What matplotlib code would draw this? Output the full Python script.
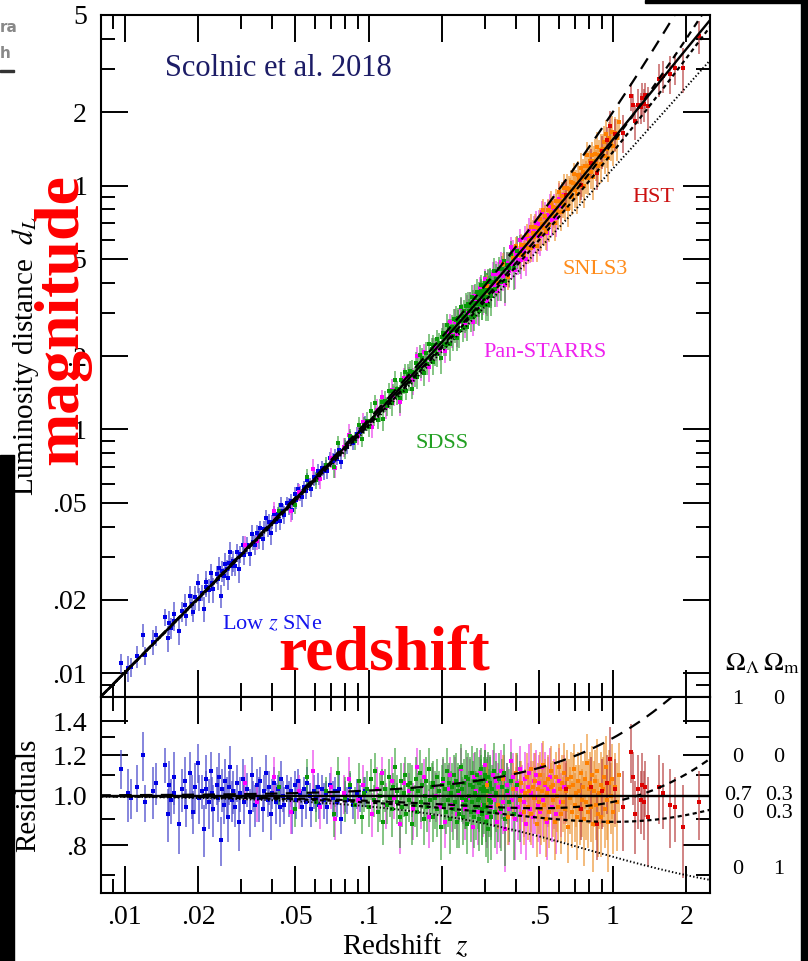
import numpy as np
import matplotlib
matplotlib.use("Agg")
import matplotlib.pyplot as plt
from matplotlib.ticker import FixedLocator, FixedFormatter, LogLocator, NullFormatter
from matplotlib.patches import Rectangle

plt.rcParams['font.family'] = ['Liberation Serif', 'DejaVu Serif']
plt.rcParams['mathtext.fontset'] = 'stix'
plt.rcParams['lines.scale_dashes'] = False

# ---------------- data ----------------
# residuals are given as percent deviation from the LCDM distance, errors in percent
z_lowz = [0.0097, 0.0103, 0.0106, 0.0112, 0.0119, 0.0121, 0.0131, 0.0134, 0.0146, 0.0150,
          0.0152, 0.0155, 0.0159, 0.0160, 0.0167, 0.0172, 0.0176, 0.0178, 0.0185, 0.0189,
          0.0190, 0.0194, 0.0199, 0.0201, 0.0207, 0.0211, 0.0215, 0.0216, 0.0222, 0.0226,
          0.0229, 0.0231, 0.0238, 0.0242, 0.0244, 0.0249, 0.0251, 0.0255, 0.0258, 0.0263,
          0.0266, 0.0268, 0.0271, 0.0275, 0.0277, 0.0283, 0.0289, 0.0293, 0.0298, 0.0304,
          0.0309, 0.0318, 0.0325, 0.0331, 0.0337, 0.0342, 0.0349, 0.0355, 0.0360, 0.0368,
          0.0372, 0.0379, 0.0386, 0.0389, 0.0397, 0.0402, 0.0411, 0.0417, 0.0425, 0.0431,
          0.0438, 0.0447, 0.0451, 0.0463, 0.0472, 0.0480, 0.0486, 0.0498, 0.0503, 0.0512,
          0.0521, 0.0533, 0.0541, 0.0552, 0.0560, 0.0574, 0.0582, 0.0597, 0.0606, 0.0619,
          0.0628, 0.0641, 0.0655, 0.0669, 0.0677, 0.0694, 0.0712, 0.0725, 0.0741, 0.0758,
          0.0772, 0.0796, 0.0815, 0.0838, 0.0862, 0.0891, 0.0924, 0.0967]
dev_lowz = [13, 1, -1, 4, 20, -3, 2, 6, 15, -8,
            5, -2, 9, 1, -12, 3, 7, -5, 11, 0,
            -7, 4, 16, -1, 2, -14, 8, 3, -3, 12,
            1, -6, 5, -1, 9, -18, 3, -4, 7, 0,
            -9, 4, 14, -2, 2, -5, 6, -11, 1, 8,
            -3, 3, -7, 10, 0, -4, 5, -1, 7, -6,
            2, 11, -2, 4, -8, 1, 6, -3, 3, -5,
            8, 0, -4, 4, -1, 2, -7, 5, -2, 7,
            1, -5, 3, -3, 6, 0, -6, 2, -1, 4,
            -4, 3, -2, 1, -5, 5, -1, 2, -3, 3,
            -10, 0, -2, 4, -4, 1, -1, 2]
err_lowz = [10, 12, 9, 11, 13, 8, 12, 10, 9, 11,
            12, 10, 13, 9, 11, 10, 12, 8, 11, 10,
            9, 12, 10, 11, 8, 10, 12, 9, 11, 10,
            8, 11, 9, 10, 12, 9, 10, 8, 11, 9,
            10, 8, 11, 9, 10, 8, 9, 11, 8, 10,
            9, 8, 10, 9, 7, 9, 8, 10, 7, 9,
            8, 9, 7, 8, 10, 7, 8, 9, 7, 8,
            9, 7, 8, 6, 8, 7, 9, 7, 8, 6,
            7, 8, 6, 7, 8, 6, 7, 8, 6, 7,
            6, 7, 8, 6, 7, 6, 8, 7, 6, 7,
            6, 7, 6, 7, 6, 7, 6, 7]

z_sdss = [0.043, 0.050, 0.056, 0.061, 0.067, 0.072, 0.075, 0.080, 0.084, 0.088, 0.091, 0.094, 0.096, 0.098,
          0.100, 0.102, 0.105, 0.106, 0.109, 0.111, 0.113, 0.114, 0.117, 0.119,
          0.121, 0.122, 0.125, 0.126, 0.128, 0.130, 0.131, 0.134, 0.135, 0.137,
          0.139, 0.141, 0.142, 0.145, 0.146, 0.148, 0.150, 0.151, 0.154, 0.156,
          0.158, 0.159, 0.162, 0.163, 0.166, 0.168, 0.170, 0.171, 0.174, 0.176,
          0.178, 0.181, 0.183, 0.184, 0.187, 0.190, 0.191, 0.194, 0.197, 0.199,
          0.201, 0.203, 0.206, 0.207, 0.209, 0.212, 0.213, 0.215, 0.218, 0.219,
          0.221, 0.223, 0.226, 0.227, 0.229, 0.232, 0.233, 0.235, 0.238, 0.240,
          0.241, 0.244, 0.245, 0.247, 0.250, 0.251, 0.253, 0.256, 0.258, 0.259,
          0.262, 0.264, 0.265, 0.268, 0.270, 0.272, 0.273, 0.276, 0.278, 0.280,
          0.282, 0.284, 0.287, 0.289, 0.291, 0.294, 0.296, 0.299, 0.302, 0.305,
          0.283, 0.288, 0.292, 0.297, 0.300, 0.303, 0.306, 0.309, 0.313, 0.316,
          0.308, 0.311, 0.314, 0.318, 0.321, 0.325, 0.329, 0.333, 0.338, 0.342,
          0.347, 0.352, 0.357, 0.363, 0.369, 0.376, 0.384, 0.393, 0.404, 0.418]
dev_sdss = [4, -6, 9, -3, 2, -8, 11, -1, 5, -4, 7, -9, 1, 3,
            -5, 8, -2, 12, -7, 0, 6, -11, 3, -4,
            9, -1, -6, 4, 14, -3, 2, -9, 7, -5,
            1, 10, -8, 5, -2, 6, -12, 3, -4, 8,
            -7, 2, 11, -3, 5, -10, 0, 7, -5, 13,
            -2, 4, -9, 6, -1, 9, -6, 2, -13, 5,
            8, -4, 3, -7, 12, -2, 6, -10, 1, 4,
            -6, 10, -3, 7, -11, 2, 5, -8, 14, -1,
            3, -9, 6, -4, 9, -2, -12, 8, 0, 5,
            -7, 11, -3, 4, -9, 7, 1, -5, 10, -2,
            6, -10, 3, 13, -6, 2, -4, 8, -11, 5,
            -1, 7, -8, 4, 10, -5, 2, -14, 6, -3,
            9, -2, 5, -9, 3, 12, -7, 1, -4, 8,
            -6, 4, 11, -10, 2, -3, 7, -8, 5, -1]
err_sdss = [8, 7, 9, 8, 7, 9, 8, 10, 7, 8, 9, 7, 8, 9,
            8, 10, 7, 9, 8, 11, 7, 9, 10, 8,
            9, 8, 11, 7, 10, 9, 8, 12, 9, 8,
            10, 9, 8, 11, 9, 10, 8, 12, 9, 11,
            10, 9, 12, 8, 11, 10, 9, 12, 10, 11,
            9, 12, 10, 11, 13, 9, 11, 10, 12, 10,
            11, 10, 13, 9, 12, 11, 10, 13, 11, 12,
            12, 10, 11, 14, 10, 12, 11, 13, 12, 10,
            13, 11, 12, 10, 14, 12, 11, 13, 12, 14,
            12, 14, 11, 13, 12, 15, 11, 13, 14, 12,
            13, 12, 15, 11, 14, 13, 12, 15, 13, 14,
            14, 13, 12, 15, 13, 14, 16, 12, 14, 15,
            13, 15, 14, 16, 12, 15, 14, 16, 15, 13,
            16, 14, 15, 17, 14, 16, 15, 17, 16, 18]

z_ps1 = [0.031, 0.035, 0.041, 0.048, 0.052, 0.059, 0.063, 0.070, 0.073, 0.079, 0.083, 0.090, 0.095,
         0.103, 0.108, 0.113, 0.118, 0.124, 0.127, 0.134, 0.139, 0.146, 0.152, 0.157, 0.164, 0.169,
         0.176, 0.183, 0.189, 0.195,
         0.202, 0.206, 0.211, 0.216, 0.219, 0.225, 0.229, 0.234, 0.238, 0.243,
         0.247, 0.253, 0.256, 0.261, 0.267, 0.271, 0.276, 0.280, 0.286, 0.290,
         0.295, 0.299, 0.305, 0.309, 0.313, 0.318, 0.323, 0.327, 0.331, 0.336,
         0.340, 0.345, 0.349, 0.354, 0.358, 0.363, 0.368, 0.372, 0.377, 0.381,
         0.386, 0.390, 0.396, 0.401, 0.405, 0.410, 0.416, 0.420, 0.425, 0.431,
         0.436, 0.441, 0.447, 0.452, 0.457, 0.463, 0.469, 0.474, 0.480, 0.486,
         0.492, 0.498, 0.505, 0.512, 0.519, 0.527, 0.535, 0.544, 0.553, 0.563,
         0.574, 0.586, 0.599, 0.614, 0.632]
dev_ps1 = [6, -3, 9, -7, 2, 12, -5, 4, -10, 1, 8, -2, 5,
           -8, 3, 11, -4, 7, -1, -12, 6, 2, -6, 14, -3, 9, -9, 4, 0, -5,
           7, -11, 3, 10, -4, 6, -8, 1, 13, -2,
           -6, 8, -1, 5, -13, 9, 2, -7, 11, 3,
           -4, 15, -9, 6, 0, -5, 10, -2, 7, -11,
           4, -7, 12, -3, 8, -14, 5, 1, -6, 17,
           -2, 9, -10, 3, 6, -5, 13, -8, 2, -3,
           8, -12, 4, 11, -6, 1, -9, 7, -1, 10,
           -4, 6, -7, 14, -2, 5, -11, 3, 9, -5,
           2, -8, 7, -3, 4]
err_ps1 = [9, 8, 10, 9, 8, 11, 9, 10, 8, 9, 11, 8, 10,
           9, 11, 8, 10, 12, 9, 11, 10, 9, 12, 10, 11, 9, 12, 10, 11, 9,
           11, 10, 12, 9, 11, 13, 10, 12, 11, 10,
           12, 11, 10, 13, 11, 12, 10, 13, 12, 11,
           13, 11, 12, 14, 10, 12, 13, 11, 14, 12,
           12, 14, 11, 13, 12, 15, 11, 13, 14, 12,
           13, 12, 15, 11, 14, 13, 12, 15, 13, 14,
           14, 13, 12, 15, 13, 16, 12, 14, 15, 13,
           15, 14, 16, 13, 15, 17, 14, 16, 15, 14,
           16, 15, 17, 14, 16]

z_snls = [0.305, 0.338, 0.356, 0.371, 0.389, 0.402, 0.415, 0.421, 0.433, 0.438,
          0.444, 0.449, 0.453, 0.461, 0.464, 0.470, 0.476, 0.481, 0.487, 0.492,
          0.497, 0.501, 0.508, 0.512, 0.517, 0.524, 0.527, 0.533, 0.539, 0.544,
          0.549, 0.556, 0.560, 0.566, 0.571, 0.579, 0.583, 0.590, 0.596, 0.601,
          0.607, 0.613, 0.620, 0.624, 0.631, 0.637, 0.643, 0.650, 0.655, 0.662,
          0.669, 0.674, 0.681, 0.688, 0.693, 0.701, 0.708, 0.713, 0.721, 0.727,
          0.735, 0.741, 0.749, 0.756, 0.762, 0.770, 0.777, 0.785, 0.791, 0.800,
          0.807, 0.815, 0.822, 0.831, 0.838, 0.847, 0.855, 0.864, 0.872, 0.881,
          0.890, 0.898, 0.908, 0.917, 0.927, 0.936, 0.947, 0.957, 0.968, 0.980,
          0.993, 1.006, 1.021, 1.038, 1.055]
dev_snls = [5, -4, 8, -9, 3, 11, -2, 6, -7, 1,
            9, -5, 2, 13, -8, 4, -1, 7, -12, 3,
            -3, 10, -6, 2, 15, -4, 6, -10, 1, 8,
            -7, 4, 12, -2, 5, -11, 9, 0, -5, 14,
            3, -8, 6, -3, 11, -6, 2, 8, -13, 4,
            -1, 9, -7, 5, 13, -4, 1, -9, 7, 2,
            -6, 11, -2, 4, -10, 8, -3, 16, -7, 3,
            6, -5, 10, -12, 2, 7, -4, 12, -8, 1,
            5, -9, 3, 9, -6, 14, -2, -11, 6, 0,
            8, -7, 4, -3, 10]
err_snls = [11, 10, 12, 11, 13, 10, 12, 11, 13, 12,
            12, 13, 11, 14, 12, 13, 11, 14, 12, 13,
            13, 12, 14, 11, 13, 15, 12, 14, 13, 12,
            14, 12, 13, 15, 12, 14, 13, 15, 14, 12,
            13, 15, 14, 12, 16, 13, 14, 15, 13, 14,
            15, 13, 14, 16, 13, 15, 14, 16, 15, 13,
            14, 16, 15, 13, 17, 14, 15, 16, 14, 15,
            16, 14, 15, 17, 15, 16, 14, 17, 16, 15,
            17, 15, 16, 18, 15, 17, 16, 18, 17, 16,
            18, 16, 17, 19, 17]

z_hst = [0.64, 0.74, 0.81, 0.86, 0.90, 0.95, 0.97, 1.02, 1.10, 1.19, 1.21, 1.23,
         1.27, 1.30, 1.32, 1.34, 1.36, 1.39, 1.54, 1.61, 1.71, 1.80, 1.93, 2.26]
dev_hst = [3, -6, 4, -12, 2, 6, 18, 3, -5, 22, 9, -8,
           3, -2, 5, -3, 4, -9, 4, 1, -4, -5, -13, -3]
err_hst = [14, 12, 15, 13, 16, 14, 18, 15, 17, 16, 13, 15,
           17, 14, 16, 15, 13, 18, 16, 15, 17, 14, 18, 15]

# cosmological models (Omega_Lambda, Omega_m)
model_omega_lambda = [1.0, 0.0, 0.7, 0.0, 0.0]
model_omega_m = [0.0, 0.0, 0.3, 0.3, 1.0]
model_text_l = ['1', '0', '0.7', '0', '0']
model_text_m = ['0', '0', '0.3', '0.3', '1']

x_ticks = [0.01, 0.02, 0.05, 0.1, 0.2, 0.5, 1, 2]
x_labels = ['.01', '.02', '.05', '.1', '.2', '.5', '1', '2']
y_ticks = [0.01, 0.02, 0.05, 0.1, 0.2, 0.5, 1, 2, 5]
y_labels = ['.01', '.02', '.05', '.1', '.2', '.5', '1', '2', '5']
r_ticks = [0.8, 1.0, 1.2, 1.4]
r_labels = ['.8', '1.0', '1.2', '1.4']
r_minor = [0.7, 0.9, 1.1, 1.3]

# ---------------- model distances ----------------
zg = np.concatenate([[0.0], np.geomspace(1e-5, 2.7, 30000)])


def lum_dist(ol, om, z):
    ok = 1.0 - ol - om
    E = np.sqrt(om * (1 + zg) ** 3 + ok * (1 + zg) ** 2 + ol)
    inv = 1.0 / E
    dc = np.concatenate([[0.0], np.cumsum(0.5 * (inv[1:] + inv[:-1]) * np.diff(zg))])
    if ok > 1e-9:
        dm = np.sinh(np.sqrt(ok) * dc) / np.sqrt(ok)
    elif ok < -1e-9:
        dm = np.sin(np.sqrt(-ok) * dc) / np.sqrt(-ok)
    else:
        dm = dc
    return np.interp(z, zg, (1 + zg) * dm)


def lcdm(z):
    return lum_dist(0.7, 0.3, np.asarray(z, float))


# ---------------- figure ----------------
W, H = 808, 961
fig = plt.figure(figsize=(W / 100, H / 100), dpi=100)
L, R, T, M, B = 101, 710, 15, 697, 893
ax1 = fig.add_axes([L / W, 1 - M / H, (R - L) / W, (M - T) / H])
ax2 = fig.add_axes([L / W, 1 - B / H, (R - L) / W, (B - M) / H])

surveys = [
    (z_lowz, dev_lowz, err_lowz, '#0000e6', (0.30, 0.30, 0.80, 0.8)),
    (z_ps1, dev_ps1, err_ps1, '#ff00ff', (0.92, 0.25, 0.92, 0.75)),
    (z_sdss, dev_sdss, err_sdss, '#0a990a', (0.20, 0.62, 0.20, 0.7)),
    (z_snls, dev_snls, err_snls, '#ff8000', (0.93, 0.58, 0.20, 0.75)),
    (z_hst, dev_hst, err_hst, '#dd0000', (0.72, 0.25, 0.25, 0.75)),
]

for zz, dev, err, pc, ec in surveys:
    zz = np.asarray(zz, float)
    ratio = 1 + np.asarray(dev, float) / 100
    e = np.asarray(err, float) / 100
    base = lcdm(zz)
    ax1.errorbar(zz, ratio * base, yerr=e * base, fmt='s', ms=2.2, mew=0, color=pc,
                 ecolor=ec, elinewidth=1.2, capsize=0, zorder=2)
    ax2.errorbar(zz, ratio, yerr=e, fmt='s', ms=2.2, mew=0, color=pc,
                 ecolor=ec, elinewidth=1.2, capsize=0, zorder=2)

zc = np.geomspace(0.0078, 2.55, 800)
styles = [(0, (9, 6)), (0, (5, 4)), '-', (0, (3, 2.5)), (0, (1, 1.6))]
widths = [1.6, 1.6, 1.7, 1.6, 1.4]
ref = lcdm(zc)
for ol, om, ls, lw in zip(model_omega_lambda, model_omega_m, styles, widths):
    d = lum_dist(ol, om, zc)
    ax1.plot(zc, d, color='black', linestyle=ls, lw=lw, zorder=4)
    ax2.plot(zc, d / ref, color='black', linestyle=ls, lw=lw, zorder=4)

for ax in (ax1, ax2):
    ax.set_xscale('log')
    ax.set_xlim(0.008, 2.5)
    ax.xaxis.set_major_locator(FixedLocator(x_ticks))
    ax.xaxis.set_major_formatter(FixedFormatter(x_labels))
    ax.xaxis.set_minor_locator(LogLocator(base=10, subs=(3, 4, 6, 7, 8, 9), numticks=50))
    ax.xaxis.set_minor_formatter(NullFormatter())
    ax.tick_params(which='both', direction='in', top=True, right=True, width=1.4,
                   labelsize=20)
    ax.tick_params(which='major', length=19.5)
    ax.tick_params(which='minor', length=10)
    ax.tick_params(axis='y', pad=10)
    ax.tick_params(axis='x', pad=9)
    for s in ax.spines.values():
        s.set_linewidth(1.5)

ax1.set_yscale('log')
ax1.set_ylim(0.008, 5)
ax1.yaxis.set_major_locator(FixedLocator(y_ticks))
ax1.yaxis.set_major_formatter(FixedFormatter(y_labels))
ax1.yaxis.set_minor_locator(LogLocator(base=10, subs=(3, 4, 6, 7, 8, 9), numticks=50))
ax1.yaxis.set_minor_formatter(NullFormatter())
ax1.tick_params(labelbottom=False)

ax2.set_yscale('log')
ax2.set_ylim(0.645, 1.56)
ax2.yaxis.set_major_locator(FixedLocator(r_ticks))
ax2.yaxis.set_major_formatter(FixedFormatter(r_labels))
ax2.yaxis.set_minor_locator(FixedLocator(r_minor))
ax2.yaxis.set_minor_formatter(NullFormatter())

ax1.set_ylabel('Luminosity distance  $d_L$', fontsize=21)
ax1.yaxis.set_label_coords(-0.098, 0.5)
ax2.set_ylabel('Residuals', fontsize=21)
ax2.yaxis.set_label_coords(-0.098, 0.5)
ax2.set_xlabel('Redshift  $z$', fontsize=21)
ax2.xaxis.set_label_coords(0.5, -0.2)


def px(x, y):
    return x / W, 1 - y / H


fig.text(*px(165, 68), 'Scolnic et al. 2018', fontsize=22, color='#1c1c66', ha='left', va='center')
fig.text(*px(653, 198), 'HST', fontsize=16, color='#cc1111', ha='center', va='center')
fig.text(*px(595, 270), 'SNLS3', fontsize=16, color='#ff8c1a', ha='center', va='center')
fig.text(*px(545, 352), 'Pan-STARRS', fontsize=16, color='#ee22ee', ha='center', va='center')
fig.text(*px(442, 444), 'SDSS', fontsize=16, color='#22a022', ha='center', va='center')
fig.text(*px(272, 625), 'Low $z$ SNe', fontsize=16, color='#1515ee', ha='center', va='center')

# right-hand model labels
fig.text(*px(742, 664), r'$\Omega_\Lambda$', fontsize=19, ha='center', va='center')
fig.text(*px(781, 664), r'$\Omega_\mathrm{m}$', fontsize=19, ha='center', va='center')
row_y = [700, 757, 796, 814, 870]
for tl, tm, yy in zip(model_text_l, model_text_m, row_y):
    fig.text(*px(738, yy), tl, fontsize=16, ha='center', va='center')
    fig.text(*px(779, yy), tm, fontsize=16, ha='center', va='center')

# red overlay words
fig.text(*px(384, 670), 'redshift', fontsize=46, fontweight='bold', color='red',
         ha='center', va='baseline')
fig.text(*px(62, 320), 'magnitude', fontsize=46, fontweight='bold', color='red',
         ha='center', va='center', rotation=90)

# screenshot borders
fig.add_artist(Rectangle((0, 0), 14 / W, (H - 455) / H, transform=fig.transFigure,
                         color='black', zorder=20))
fig.add_artist(Rectangle((801 / W, 0), 7 / W, 1, transform=fig.transFigure,
                         color='black', zorder=20))
fig.add_artist(Rectangle((645 / W, 1 - 3 / H), 163 / W, 3 / H, transform=fig.transFigure,
                         color='black', zorder=20))
fig.add_artist(Rectangle((0, 1 - 72 / H), 14 / W, 2 / H, transform=fig.transFigure,
                         color='#333333', zorder=20))
fig.text(0, 1 - 27 / H, 'ra', fontsize=11, color='#888888', fontweight='bold',
         family='DejaVu Sans', ha='left', va='center')
fig.text(0, 1 - 54 / H, 'h', fontsize=11, color='#888888', fontweight='bold',
         family='DejaVu Sans', ha='left', va='center')

fig.savefig('out.png', dpi=100)
